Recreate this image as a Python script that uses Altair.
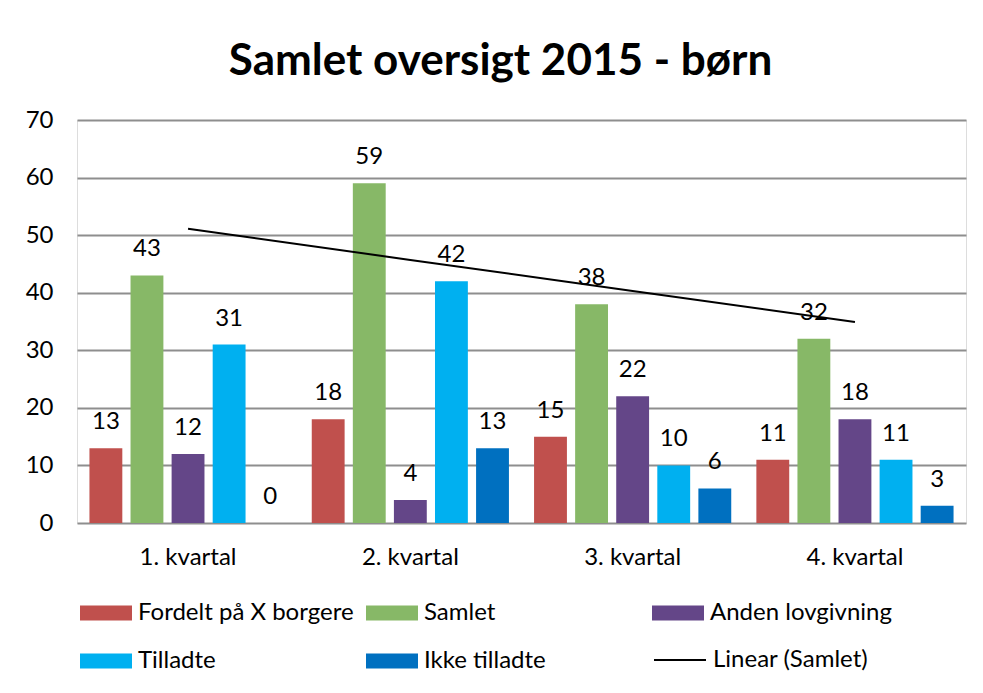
import altair as alt
import pandas as pd
import numpy as np

quarters = ["1. kvartal", "2. kvartal", "3. kvartal", "4. kvartal"]
series = ["Fordelt på X borgere", "Samlet", "Anden lovgivning", "Tilladte", "Ikke tilladte"]
fordelt = [13, 18, 15, 11]
samlet = [43, 59, 38, 32]
anden = [12, 4, 22, 18]
tilladte = [31, 42, 10, 11]
ikke_tilladte = [0, 13, 6, 3]
colors = ["#C0504D", "#87B867", "#644688", "#00B0F0", "#0070C0"]
trend_name = "Linear (Samlet)"
y_ticks = [0, 10, 20, 30, 40, 50, 60, 70]

FONT = "Lato"
FS = 24

rows = []
for s, vals in zip(series, [fordelt, samlet, anden, tilladte, ikke_tilladte]):
    for q, v in zip(quarters, vals):
        rows.append({"kvartal": q, "serie": s, "antal": v})
df = pd.DataFrame(rows)

xs = np.arange(1, len(quarters) + 1)
slope, intercept = np.polyfit(xs, samlet, 1)
trend = pd.DataFrame({"kvartal": quarters, "trend": slope * xs + intercept, "navn": trend_name})

x_enc = alt.X(
    "kvartal:N", sort=quarters,
    scale=alt.Scale(paddingInner=0.113, paddingOuter=0.056),
    axis=alt.Axis(title=None, labelAngle=0, ticks=False, domain=False, grid=False,
                  labelFont=FONT, labelFontSize=FS, labelColor="black", labelPadding=22),
)
y_enc = alt.Y(
    "antal:Q",
    scale=alt.Scale(domain=[0, 70], nice=False),
    axis=alt.Axis(title=None, values=y_ticks, ticks=False, domain=False, grid=True,
                  gridColor="#8E8E8E", gridWidth=2,
                  labelFont=FONT, labelFontSize=FS, labelColor="black", labelPadding=24),
)
xoff = alt.XOffset("serie:N", sort=series, scale=alt.Scale(paddingInner=0.2, paddingOuter=0))

bars = alt.Chart(df).mark_bar().encode(
    x=x_enc, y=y_enc, xOffset=xoff,
    color=alt.Color(
        "serie:N", sort=series,
        scale=alt.Scale(domain=series, range=colors),
        legend=alt.Legend(
            title=None, orient="none", legendX=3, legendY=467, columns=3,
            direction="horizontal", gridAlign="all", columnPadding=12, rowPadding=10,
            symbolType="M-1,-0.288H1V0.288H-1Z", symbolSize=2704, symbolStrokeWidth=0,
            labelFont=FONT, labelFontSize=FS, labelColor="black", labelOffset=6, labelLimit=400,
        ),
    ),
)

labels = alt.Chart(df).mark_text(
    baseline="bottom", dy=-14, font=FONT, fontSize=FS, color="black"
).encode(
    x=alt.X("kvartal:N", sort=quarters),
    y=alt.Y("antal:Q"),
    xOffset=alt.XOffset("serie:N", sort=series),
    text=alt.Text("antal:Q"),
)

line = alt.Chart(trend).mark_line(strokeWidth=2).encode(
    x=alt.X("kvartal:N", sort=quarters),
    y=alt.Y("trend:Q"),
    color=alt.Color(
        "navn:N",
        scale=alt.Scale(domain=[trend_name], range=["black"]),
        legend=alt.Legend(
            title=None, orient="none", legendX=576, legendY=513,
            symbolType="stroke", symbolSize=2704, symbolStrokeWidth=2,
            labelFont=FONT, labelFontSize=FS, labelColor="black", labelOffset=6,
        ),
    ),
)

chart = (
    alt.layer(bars, labels, line)
    .resolve_scale(color="independent")
    .properties(
        width=889, height=403,
        autosize=alt.AutoSizeParams(type="none"),
        padding={"left": 69, "top": 112, "right": 9, "bottom": 170},
        title=alt.TitleParams(
            "Samlet oversigt 2015 - børn", font=FONT, fontSize=44, fontWeight="bold",
            color="black", anchor="middle", dx=-21, offset=24,
        ),
    )
    .configure_view(stroke=None)
    .configure(background="white")
)

chart.save("out.html", embed_options={"renderer": "svg", "actions": False})
